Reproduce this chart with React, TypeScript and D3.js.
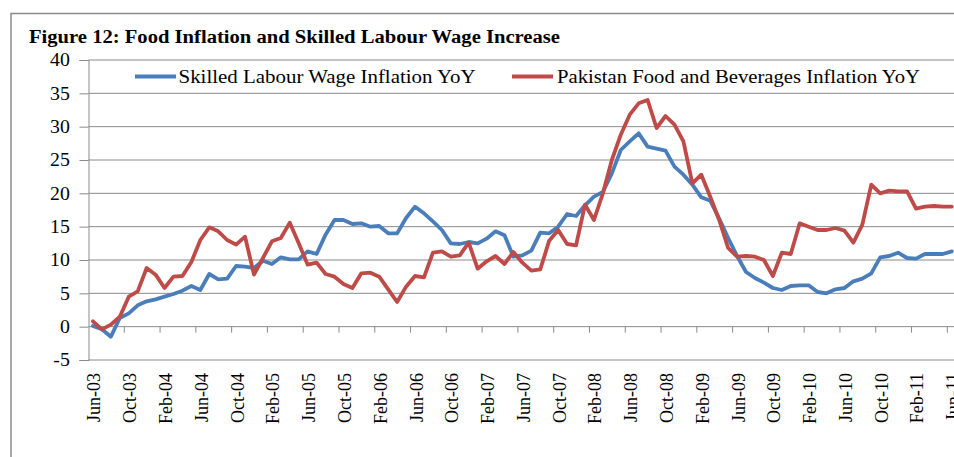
import React, { useEffect, useRef } from 'react'
import * as d3 from 'd3'

// monthly categories Jun-03 .. Jun-11
const months: Date[] = d3.timeMonth.range(new Date(2003, 5, 1), new Date(2011, 6, 1))

const wageInflation: number[] = [
  0.1, -0.4, -1.5, 1.3, 2.0, 3.2, 3.8, 4.1, 4.5, 4.9, 5.4, 6.1,
  5.5, 7.9, 7.1, 7.2, 9.1, 9.0, 8.8, 9.9, 9.4, 10.4, 10.1, 10.1,
  11.3, 10.9, 13.8, 16.0, 16.0, 15.4, 15.5, 15.0, 15.1, 14.0, 14.0, 16.3,
  18.0, 17.0, 15.8, 14.5, 12.5, 12.4, 12.7, 12.5, 13.2, 14.3, 13.7, 10.5,
  10.7, 11.4, 14.1, 14.0, 15.0, 16.9, 16.6, 18.2, 19.5, 20.2, 23.0, 26.5,
  27.8, 29.0, 27.0, 26.7, 26.4, 24.0, 22.8, 21.3, 19.4, 18.9, 16.2, 13.3,
  10.6, 8.2, 7.3, 6.6, 5.8, 5.5, 6.1, 6.2, 6.2, 5.2, 5.0, 5.6,
  5.8, 6.8, 7.2, 8.0, 10.4, 10.6, 11.1, 10.3, 10.2, 10.9, 10.9, 10.9,
  11.3
]

const foodInflation: number[] = [
  0.8, -0.4, 0.3, 1.5, 4.5, 5.3, 8.8, 7.8, 5.8, 7.5, 7.6, 9.7,
  13.0, 14.9, 14.3, 13.0, 12.3, 13.5, 7.8, 10.3, 12.8, 13.3, 15.6, 12.5,
  9.3, 9.6, 7.9, 7.5, 6.4, 5.8, 8.0, 8.1, 7.5, 5.6, 3.7, 6.0,
  7.6, 7.4, 11.1, 11.3, 10.5, 10.7, 12.6, 8.7, 9.8, 10.6, 9.4, 11.2,
  9.6, 8.4, 8.6, 12.9, 14.5, 12.4, 12.2, 18.3, 16.0, 20.0, 25.0, 28.8,
  31.8, 33.5, 34.0, 29.8, 31.6, 30.3, 27.8, 21.5, 22.8, 19.5, 16.0, 11.8,
  10.5, 10.6, 10.5, 10.0, 7.6, 11.1, 10.9, 15.5, 15.0, 14.5, 14.5, 14.8,
  14.4, 12.6, 15.3, 21.3, 20.0, 20.4, 20.3, 20.3, 17.7, 18.0, 18.1, 18.0,
  18.0
]

const yTicks: number[] = [-5, 0, 5, 10, 15, 20, 25, 30, 35, 40]
const labelEvery = 4

const seriesNames: string[] = ['Skilled Labour Wage Inflation YoY', 'Pakistan Food and Beverages Inflation YoY']
const seriesColors: string[] = ['#4a7ebb', '#be4b48']
const title = 'Figure 12: Food Inflation and Skilled Labour Wage Increase'

const W = 954, H = 457
const FONT = '"Liberation Serif", "Times New Roman", serif'

export default function App() {
  const ref = useRef<SVGSVGElement>(null)

  useEffect(() => {
    const svg = d3.select(ref.current)
    svg.selectAll('*').remove()

    const left = 88.5, top = 60, bottom = 360
    const step = 8.946
    const right = left + step * months.length

    const fmt = d3.timeFormat('%b-%y')

    const x = d3.scaleBand<string>()
      .domain(months.map(d => fmt(d)))
      .range([left, right])
    const cx = (i: number) => (x(fmt(months[i])) as number) + x.bandwidth() / 2

    const y = d3.scaleLinear().domain([-5, 40]).range([bottom, top])

    // chart frame
    svg.append('rect')
      .attr('x', 11).attr('y', 13.5)
      .attr('width', W + 20).attr('height', H + 20)
      .attr('fill', 'white')
      .attr('stroke', '#8c8c8c').attr('stroke-width', 1.5)

    // title (the source picture is stretched sideways a bit)
    svg.append('text')
      .attr('x', 29).attr('y', 43)
      .attr('font-family', FONT).attr('font-weight', 'bold').attr('font-size', 18)
      .attr('textLength', 531).attr('lengthAdjust', 'spacingAndGlyphs')
      .attr('fill', '#000')
      .text(title)

    // gridlines
    svg.append('g').selectAll('line')
      .data(yTicks)
      .enter().append('line')
      .attr('x1', left).attr('x2', right)
      .attr('y1', d => y(d)).attr('y2', d => y(d))
      .attr('stroke', '#8a8a8a').attr('stroke-width', 1)

    // y axis
    const yAxis = d3.axisLeft(y).tickValues(yTicks).tickSize(9).tickPadding(8)
      .tickFormat(d => String(d))
    const gY = svg.append('g').attr('transform', `translate(${left},0)`).call(yAxis)
    gY.select('.domain').attr('stroke', '#8a8a8a')
    gY.selectAll('.tick line').attr('stroke', '#8a8a8a')
    gY.selectAll('.tick text')
      .attr('font-family', FONT).attr('font-size', 18).attr('fill', '#000')
      .attr('transform', 'scale(1.1,1)')

    // x axis ticks at 0, between category groups
    const tickIdx = d3.range(labelEvery, months.length, labelEvery)
    svg.append('g').selectAll('line')
      .data(tickIdx)
      .enter().append('line')
      .attr('x1', i => left + step * i).attr('x2', i => left + step * i)
      .attr('y1', y(0)).attr('y2', y(0) + 6)
      .attr('stroke', '#8a8a8a')

    // category labels (low)
    const labelIdx = d3.range(0, months.length, labelEvery)
    svg.append('g').selectAll('text')
      .data(labelIdx)
      .enter().append('text')
      .attr('transform', i => `translate(${cx(i) + 1},373) rotate(-90)`)
      .attr('text-anchor', 'end')
      .attr('dy', '0.36em')
      .attr('font-family', FONT).attr('font-size', 18).attr('fill', '#000')
      .text(i => fmt(months[i]))

    // lines
    const line = d3.line<number>()
      .x((d, i) => cx(i))
      .y(d => y(d))

    ;[wageInflation, foodInflation].forEach((s, k) => {
      svg.append('path')
        .datum(s)
        .attr('d', line)
        .attr('fill', 'none')
        .attr('stroke', seriesColors[k])
        .attr('stroke-width', 3.8)
        .attr('stroke-linejoin', 'round')
        .attr('stroke-linecap', 'round')
    })

    // legend
    const legendPos = [{ x1: 135, x2: 176, tx: 178.5, len: 297 }, { x1: 512, x2: 553, tx: 557, len: 363 }]
    legendPos.forEach((p, k) => {
      svg.append('line')
        .attr('x1', p.x1).attr('x2', p.x2)
        .attr('y1', 76.5).attr('y2', 76.5)
        .attr('stroke', seriesColors[k]).attr('stroke-width', 3.8)
      svg.append('text')
        .attr('x', p.tx).attr('y', 82.5)
        .attr('font-family', FONT).attr('font-size', 18).attr('fill', '#000')
        .attr('textLength', p.len).attr('lengthAdjust', 'spacingAndGlyphs')
        .text(seriesNames[k])
    })
  }, [])

  return (
    <svg ref={ref} width={W} height={H}
      style={{ position: 'absolute', left: 0, top: 0, background: 'white' }} />
  )
}
